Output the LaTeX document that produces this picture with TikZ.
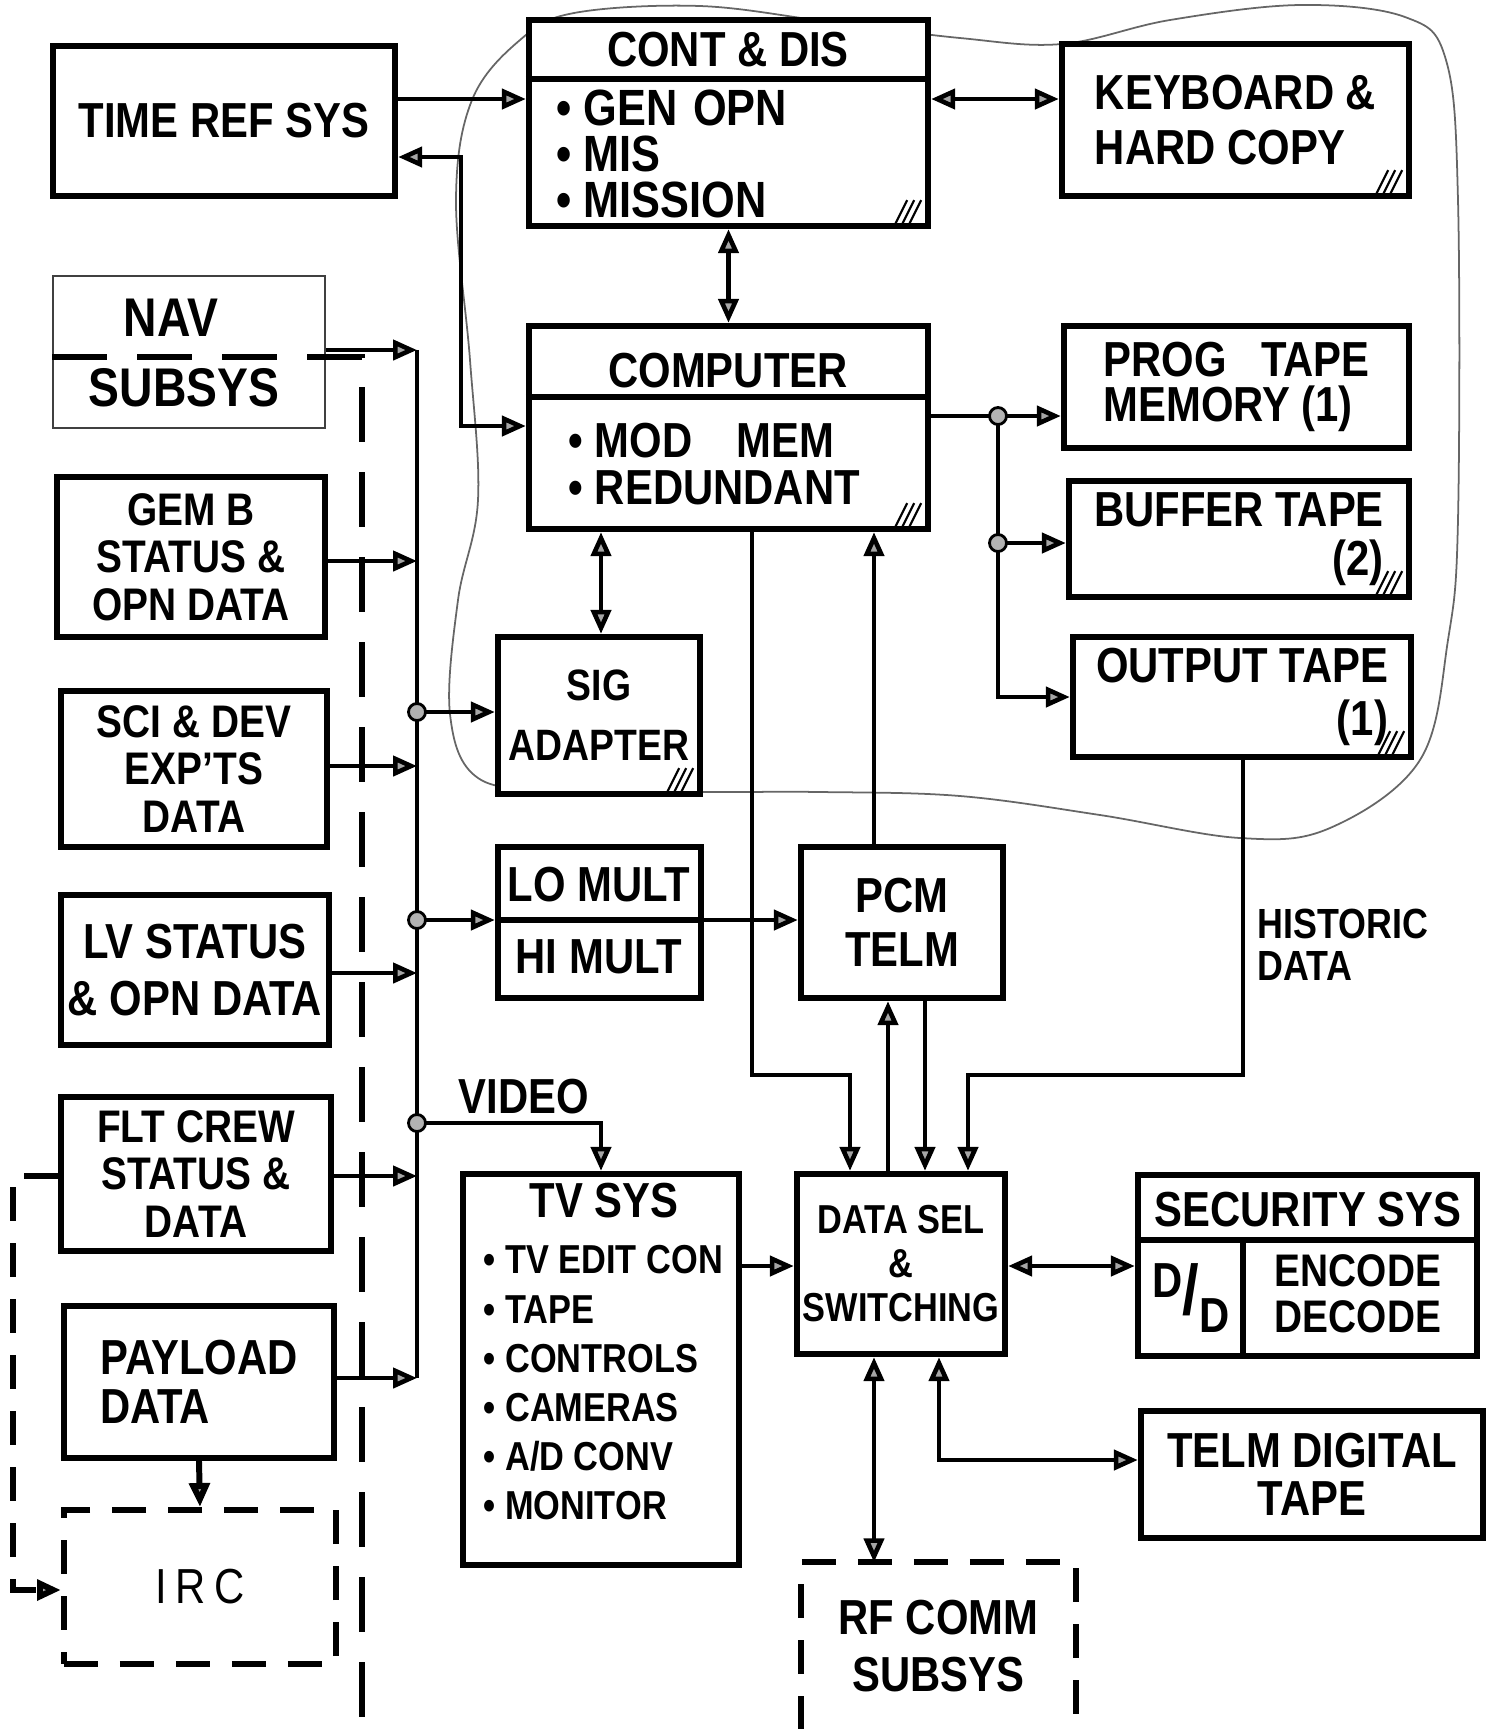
\documentclass[tikz,border=0pt]{standalone}
\usepackage{fontspec}
\setmainfont{Liberation Sans}[FakeStretch=0.85]
\usetikzlibrary{arrows.meta}

\tikzset{
  blk/.style={draw, line width=1.8pt, fill=white, inner sep=0pt, align=center},
  sz/.style 2 args={minimum width=#1*0.1mm, minimum height=#2*0.1mm},
  lbl/.style={font=\bfseries\fontsize{14}{#1}\selectfont, align=center, inner sep=0pt},
  lbl/.default=15,
  small/.style={font=\bfseries\fontsize{13}{#1}\selectfont},
  small/.default=13.5,
  ln/.style={line width=1.3pt},
  dashbox/.style={line width=1.7pt, dash pattern=on 3.4mm off 2.2mm},
  dashln/.style={line width=1.6pt, dash pattern=on 5.5mm off 3mm},
  jdot/.style={fill=black!30, draw=black, line width=0.8pt},
  cloud/.style={line width=0.5pt, black!60}
}

\begin{document}
\begin{tikzpicture}[x=0.1mm, y=-0.1mm,
    >={Triangle[length=2.4mm, width=2mm, fill=black!35]}]
  \useasboundingbox (0,0) rectangle (1487,1729);

  % outline round the computer group
  \draw[cloud] plot[smooth cycle, tension=0.6] coordinates {
    (574,13) (700,6) (830,22) (960,38) (1062,44) (1170,20) (1300,5)
    (1405,17) (1446,60) (1458,200) (1458,520) (1448,640) (1420,760)
    (1330,828) (1240,838) (1100,815) (960,796) (820,792) (700,792)
    (560,790) (478,778) (450,714) (458,600) (478,500) (470,360)
    (456,200) (472,100) (520,40)};

  % top row
  \node[blk, sz={342}{150}, lbl] (timeref) at (224,121) {TIME REF SYS};
  \node[blk, sz={399}{206}] (contdis) at (728.5,123) {};
  \draw[line width=1.8pt] (contdis.west |- 0,79) -- (contdis.east |- 0,79);
  \node[lbl] (contdis-t) at (728,50) {CONT \& DIS};
  \node[lbl, font=\bfseries\fontsize{14.5}{13}\selectfont, align=left, anchor=west] (contdis-i) at (556,154)
    {• GEN\hspace{0.3em}OPN\\• MIS\\• MISSION};
  \node[blk, sz={347}{152}, lbl=15.5, align=left] (keyboard) at (1235.5,120) {KEYBOARD \&\\HARD COPY};

  % computer and tapes
  \node[blk, sz={399}{203}] (computer) at (728.5,427.5) {};
  \draw[line width=1.8pt] (computer.west |- 0,397) -- (computer.east |- 0,397);
  \node[lbl] (computer-t) at (728,371) {COMPUTER};
  \node[lbl=13.5, align=left, anchor=west] (computer-i) at (568,464) {• MOD\hspace{0.9em}MEM\\• REDUNDANT};
  \node[blk, sz={345}{122}, lbl=13, align=left] (progtape) at (1236.5,387) {PROG\hspace{0.7em}TAPE\\MEMORY (1)};
  \node[blk, sz={340}{116}, lbl=14, align=right] (buffer) at (1239,539) {BUFFER TAPE\\(2)};
  \node[blk, sz={338}{120}, lbl=15, align=right] (output) at (1242,697) {OUTPUT TAPE\\(1)};
  \node[blk, sz={202}{157}, lbl, font=\bfseries\fontsize{12.5}{17}\selectfont] (sig) at (599,715.5) {SIG\\ADAPTER};

  % inputs on the left
  \node[blk, draw=black!75, line width=0.5pt, sz={272}{152}] (nav) at (189,352) {};
  \node[lbl, font=\bfseries\fontsize{15.5}{16}\selectfont] (nav-t) at (171,318) {NAV};
  \node[lbl, font=\bfseries\fontsize{15.5}{16}\selectfont] (nav-b) at (184,388) {SUBSYS};
  \node[blk, sz={268}{160}, lbl, small] (gemb) at (191,557) {GEM B\\STATUS \&\\OPN DATA};
  \node[blk, sz={266}{156}, lbl, small] (sci) at (194,769) {SCI \& DEV\\EXP'TS\\DATA};
  \node[blk, sz={268}{150}, lbl=16] (lv) at (195,970) {LV STATUS\\\& OPN DATA};
  \node[blk, sz={270}{154}, lbl, small] (flt) at (196,1174) {FLT CREW\\STATUS \&\\DATA};
  \node[blk, sz={270}{152}, lbl=14, align=left] (payload) at (199,1382) {PAYLOAD\\DATA};
  \node[draw, dashbox, fill=white, sz={272}{154}, font=\fontsize{14}{15}\selectfont] (irc) at (200,1587) {I\,R\,C};

  % multiplexers and telemetry
  \node[blk, sz={203}{151}] (mult) at (599.5,922.5) {};
  \draw[line width=1.8pt] (mult.west |- 0,920) -- (mult.east |- 0,920);
  \node[lbl] (mult-lo) at (599,885) {LO MULT};
  \node[lbl] (mult-hi) at (599,957) {HI MULT};
  \node[blk, sz={202}{151}, lbl=15.5] (pcm) at (902,922.5) {PCM\\TELM};

  % lower part
  \node[blk, sz={276}{391}] (tvsys) at (601,1369.5) {};
  \node[lbl] (tvsys-t) at (604,1201) {TV SYS};
  \node[lbl, font=\bfseries\fontsize{11.5}{14}\selectfont, align=left, anchor=west] (tvsys-i) at (483,1383)
    {• TV EDIT CON\\• TAPE\\• CONTROLS\\• CAMERAS\\• A/D CONV\\• MONITOR};
  \node[blk, sz={208}{180}, lbl, font=\bfseries\fontsize{11.5}{12.5}\selectfont] (datasel) at (901,1264) {DATA SEL\\\&\\SWITCHING};
  \node[blk, sz={339}{181}] (security) at (1307.5,1265.5) {};
  \draw[line width=1.8pt] (security.west |- 0,1240) -- (security.east |- 0,1240);
  \draw[line width=1.8pt] (1243,1240) -- (security.south -| 1243,0);
  \node[lbl] (security-t) at (1308,1210) {SECURITY SYS};
  \node[lbl] (security-dd) at (1191,1298)
    {\raisebox{0.35em}{D}{\fontsize{20}{20}\selectfont/}\raisebox{-0.35em}{D}};
  \node[lbl, small=13] (security-ed) at (1358,1294) {ENCODE\\DECODE};
  \node[blk, sz={342}{127}, lbl=13.6] (telmdig) at (1312,1474.5) {TELM DIGITAL\\TAPE};
  \node[sz={273}{166}, lbl=16.2] (rfcomm) at (938.5,1646) {RF COMM\\SUBSYS};
  \draw[dashbox] (rfcomm.south west) -- (rfcomm.north west) -- (rfcomm.north east) -- (rfcomm.south east);

  \node[lbl, font=\bfseries\fontsize{12}{12}\selectfont, align=left, anchor=west] (historic) at (1257,945) {HISTORIC\\DATA};
  \node[lbl] (video) at (524,1097) {VIDEO};

  % corner marks
  \foreach \b in {contdis, keyboard, computer, buffer, output, sig}
    \foreach \k in {0,7,14}
      \draw[line width=0.6pt] ([shift={(-36+\k,-5)}]\b.south east) -- ++(12,-24);

  % dashed links
  \draw[dashln] (nav.west |- 0,357) -- (362,357) -- (362,1729);
  \draw[dashbox, ->] (flt.west |- 0,1176) -- (13,1176) -- (13,1590) -- (irc.west |- 0,1590);
  \draw[dashbox, ->] (payload.south) -- (irc.north);

  % data bus
  \coordinate (bustop) at (417,350);
  \coordinate (busbot) at (417,1378);
  \draw[ln] (bustop) -- (busbot);
  \foreach \b/\y in {nav/350, gemb/561, sci/766, lv/973, flt/1176, payload/1378}
    \draw[ln, ->] (\b.east |- 0,\y) -- (bustop |- 0,\y);
  \coordinate (jsig) at (417,712);
  \coordinate (jmult) at (417,920);
  \coordinate (jvid) at (417,1123);
  \draw[ln, ->] (jsig) -- (sig.west |- jsig);
  \draw[ln, ->] (jmult) -- (mult.west |- jmult);
  \draw[ln, ->] (jvid) -- (jvid -| tvsys.north) -- (tvsys.north);

  % computer links
  \draw[ln, ->] (timeref.east |- 0,99) -- (contdis.west |- 0,99);
  \draw[ln, <->] (contdis.east |- 0,99) -- (keyboard.west |- 0,99);
  \draw[ln, <->] (timeref.east |- 0,157) -- (461,157) -- (461,426) -- (computer.west |- 0,426);
  \draw[ln, <->] (contdis.south) -- (computer.north);
  \coordinate (jtape) at (998,416);
  \coordinate (jbuf) at (998,543);
  \draw[ln, ->] (computer.east |- jtape) -- (progtape.west |- jtape);
  \draw[ln, ->] (jtape) -- (jtape |- 0,697) -- (output.west |- 0,697);
  \draw[ln, ->] (jbuf) -- (buffer.west |- jbuf);
  \draw[ln, <->] (computer.south -| 601,0) -- (sig.north -| 601,0);
  \draw[ln, ->] (computer.south -| 752,0) -- (752,1075) -- (850,1075) -- (datasel.north -| 850,0);
  \draw[ln, ->] (pcm.north -| 874,0) -- (computer.south -| 874,0);
  \draw[ln, ->] (mult.east |- jmult) -- (pcm.west |- jmult);
  \draw[ln, ->] (datasel.north -| 888,0) -- (pcm.south -| 888,0);
  \draw[ln, ->] (pcm.south -| 925,0) -- (datasel.north -| 925,0);
  \draw[ln, ->] (output.south -| 1243,0) -- (1243,1075) -- (968,1075) -- (datasel.north -| 968,0);
  \draw[ln, ->] (tvsys.east |- 0,1266) -- (datasel.west |- 0,1266);
  \draw[ln, <->] (datasel.east |- 0,1266) -- (security.west |- 0,1266);
  \draw[ln, <->] (datasel.south -| 939,0) -- (939,1460) -- (telmdig.west |- 0,1460);
  \draw[ln, <->] (datasel.south -| 874,0) -- (rfcomm.north -| 874,0);

  % junction dots
  \foreach \j in {jsig, jmult, jvid, jtape, jbuf}
    \filldraw[jdot] (\j) circle[radius=0.85mm];
\end{tikzpicture}
\end{document}
